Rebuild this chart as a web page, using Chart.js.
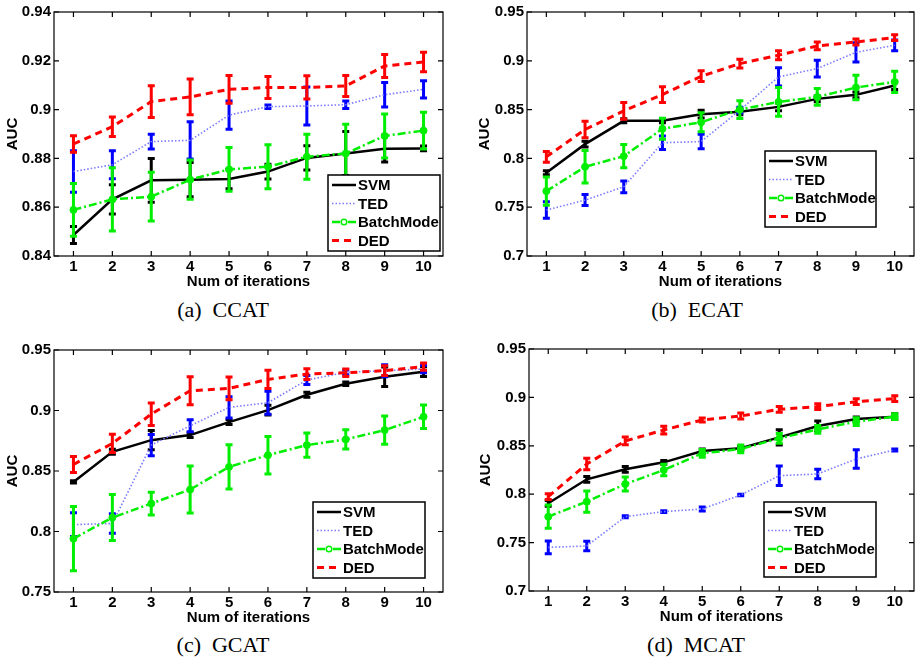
<!DOCTYPE html>
<html lang="en">
<head>
<meta charset="UTF-8" />
<title>AUC vs iterations</title>
<script src="https://cdn.jsdelivr.net/npm/chart.js@4.4.1/dist/chart.umd.min.js"></script>
<style>
  body { margin: 0; background: #fff; width: 919px; height: 660px; position: relative; overflow: hidden; }
  .panel { position: absolute; }
  .panel canvas { display: block; }
  .cap { position: absolute; font-family: "Liberation Serif", "Times New Roman", serif; font-size: 22px; color: #000; white-space: pre; transform: translate(-50%, -50%); }
</style>
</head>
<body>

<div class="panel" style="left:0;top:0"><canvas id="chartA" width="459" height="295"></canvas></div>
<div class="panel" style="left:459px;top:0"><canvas id="chartB" width="460" height="295"></canvas></div>
<div class="panel" style="left:0;top:330px"><canvas id="chartC" width="459" height="301"></canvas></div>
<div class="panel" style="left:459px;top:330px"><canvas id="chartD" width="460" height="300"></canvas></div>

<div class="cap" style="left:223px;top:310px">(a)  CCAT</div>
<div class="cap" style="left:697px;top:310px">(b)  ECAT</div>
<div class="cap" style="left:223px;top:645px">(c)  GCAT</div>
<div class="cap" style="left:696px;top:645px">(d)  MCAT</div>

<script>
// x 軸：迭代次數
const iterations = [1, 2, 3, 4, 5, 6, 7, 8, 9, 10];
const seriesNames = ["SVM", "TED", "BatchMode", "DED"];

// (a) CCAT
const ccatTicks = [0.84, 0.86, 0.88, 0.9, 0.92, 0.94];
const ccatTickLabels = ["0.84", "0.86", "0.88", "0.9", "0.92", "0.94"];
const ccatSvm = [0.8486, 0.8632, 0.871, 0.8713, 0.8716, 0.8746, 0.8802, 0.882, 0.884, 0.8841];
const ccatSvmErr = [0.0035, 0.006, 0.009, 0.007, 0.004, 0.003, 0.005, 0.009, 0.0055, 0.001];
const ccatTed = [0.8746, 0.8774, 0.8869, 0.8874, 0.8977, 0.9012, 0.9015, 0.902, 0.9061, 0.9083];
const ccatTedErr = [0.0085, 0.0057, 0.003, 0.0076, 0.0058, 0.0007, 0.0078, 0.0015, 0.005, 0.0035];
const ccatBatch = [0.8589, 0.8632, 0.8643, 0.8713, 0.8755, 0.8766, 0.8807, 0.882, 0.8892, 0.8914];
const ccatBatchErr = [0.0108, 0.013, 0.01, 0.008, 0.009, 0.009, 0.0092, 0.012, 0.009, 0.0075];
const ccatDed = [0.8859, 0.893, 0.9033, 0.9052, 0.9083, 0.9091, 0.9091, 0.9097, 0.9179, 0.9195];
const ccatDedErr = [0.0034, 0.004, 0.0065, 0.0073, 0.0057, 0.0045, 0.0048, 0.0043, 0.0047, 0.004];

// (b) ECAT
const ecatTicks = [0.7, 0.75, 0.8, 0.85, 0.9, 0.95];
const ecatTickLabels = ["0.7", "0.75", "0.8", "0.85", "0.9", "0.95"];
const ecatSvm = [0.7853, 0.8146, 0.8385, 0.8385, 0.8453, 0.8477, 0.8528, 0.861, 0.8651, 0.8746];
const ecatSvmErr = [0.002, 0.003, 0.002, 0.002, 0.004, 0.003, 0.004, 0.003, 0.003, 0.004];
const ecatTed = [0.7471, 0.7573, 0.7709, 0.816, 0.8173, 0.8494, 0.8835, 0.892, 0.9087, 0.9159];
const ecatTedErr = [0.0085, 0.0056, 0.006, 0.007, 0.0075, 0.003, 0.0093, 0.0085, 0.0099, 0.0055];
const ecatBatch = [0.7665, 0.7914, 0.8023, 0.8303, 0.8371, 0.85, 0.8579, 0.863, 0.8726, 0.8784];
const ecatBatchErr = [0.0145, 0.0167, 0.012, 0.0108, 0.0097, 0.009, 0.0148, 0.0085, 0.0125, 0.011];
const ecatDed = [0.8016, 0.8296, 0.8487, 0.8654, 0.8842, 0.8971, 0.9057, 0.9152, 0.9193, 0.9237];
const ecatDedErr = [0.0055, 0.0085, 0.0085, 0.008, 0.0055, 0.0045, 0.0045, 0.004, 0.003, 0.003];

// (c) GCAT
const gcatTicks = [0.75, 0.8, 0.85, 0.9, 0.95];
const gcatTickLabels = ["0.75", "0.8", "0.85", "0.9", "0.95"];
const gcatSvm = [0.841, 0.8659, 0.8755, 0.8797, 0.8904, 0.9003, 0.913, 0.9221, 0.9279, 0.9321];
const gcatSvmErr = [0.001, 0.002, 0.008, 0.002, 0.002, 0.004, 0.002, 0.0015, 0.008, 0.004];
const gcatTed = [0.8057, 0.8066, 0.8714, 0.8874, 0.9026, 0.9064, 0.9252, 0.9315, 0.9329, 0.9343];
const gcatTedErr = [0.0098, 0.008, 0.0087, 0.005, 0.0088, 0.0096, 0.0037, 0.002, 0.005, 0.003];
const gcatBatch = [0.7941, 0.8115, 0.8231, 0.8347, 0.8534, 0.8631, 0.8714, 0.8761, 0.8838, 0.8948];
const gcatBatchErr = [0.0265, 0.019, 0.0094, 0.0195, 0.0183, 0.0155, 0.01, 0.008, 0.0117, 0.0097];
const gcatDed = [0.8554, 0.8728, 0.897, 0.9163, 0.9183, 0.9257, 0.9301, 0.9312, 0.9329, 0.9362];
const gcatDedErr = [0.0066, 0.0076, 0.0093, 0.0115, 0.0094, 0.0076, 0.0044, 0.003, 0.004, 0.003];

// (d) MCAT
const mcatTicks = [0.7, 0.75, 0.8, 0.85, 0.9, 0.95];
const mcatTickLabels = ["0.7", "0.75", "0.8", "0.85", "0.9", "0.95"];
const mcatSvm = [0.7906, 0.8154, 0.8257, 0.8329, 0.8446, 0.8474, 0.8587, 0.8705, 0.8777, 0.8801];
const mcatSvmErr = [0.003, 0.003, 0.003, 0.002, 0.002, 0.002, 0.008, 0.005, 0.002, 0.003];
const mcatTed = [0.7451, 0.7465, 0.7768, 0.782, 0.7847, 0.7992, 0.8191, 0.8209, 0.8364, 0.8457];
const mcatTedErr = [0.0065, 0.005, 0.001, 0.001, 0.002, 0.0007, 0.01, 0.005, 0.0095, 0.001];
const mcatBatch = [0.7768, 0.7923, 0.8105, 0.825, 0.8422, 0.8467, 0.8577, 0.867, 0.8749, 0.8801];
const mcatBatchErr = [0.012, 0.011, 0.0072, 0.006, 0.004, 0.004, 0.005, 0.004, 0.004, 0.003];
const mcatDed = [0.7975, 0.8312, 0.855, 0.8663, 0.8767, 0.8808, 0.8877, 0.8904, 0.8956, 0.8987];
const mcatDedErr = [0.003, 0.006, 0.004, 0.004, 0.002, 0.003, 0.003, 0.003, 0.003, 0.003];

const FONT = "'Liberation Sans', Arial, Helvetica, sans-serif";

// 線條樣式（依 seriesNames 的順序）
const styles = [
  { line: "#000000", bar: "#000000", width: 2.5, dash: [], order: 3 },
  { line: "#7a7aff", bar: "#0000ff", width: 1.6, dash: [1.5, 2], order: 2 },
  { line: "#00ee00", bar: "#00ee00", width: 2.5, dash: [8, 3, 2, 3], order: 1, marker: true },
  { line: "#ff0000", bar: "#ff0000", width: 3, dash: [7, 5], order: 0 },
];

// 誤差棒：在每條線畫之前先畫，讓後面的系列蓋在上面
const errorBarPlugin = {
  id: "errorBars",
  beforeDatasetDraw(chart, args) {
    const ds = chart.data.datasets[args.index];
    if (!ds.errors) return;
    const { ctx, chartArea: a } = chart;
    const xs = chart.scales.x, ys = chart.scales.y;
    ctx.save();
    ctx.beginPath();
    ctx.rect(a.left, a.top, a.right - a.left, a.bottom - a.top);
    ctx.clip();
    ctx.strokeStyle = ds.barColor;
    ctx.lineWidth = 3;
    ctx.setLineDash([]);
    ds.data.forEach((p, i) => {
      const px = xs.getPixelForValue(p.x);
      const top = ys.getPixelForValue(p.y + ds.errors[i]);
      const bot = ys.getPixelForValue(p.y - ds.errors[i]);
      ctx.beginPath();
      ctx.moveTo(px, top); ctx.lineTo(px, bot);
      ctx.moveTo(px - 3.5, top); ctx.lineTo(px + 3.5, top);
      ctx.moveTo(px - 3.5, bot); ctx.lineTo(px + 3.5, bot);
      ctx.stroke();
    });
    ctx.restore();
  },
};

// MATLAB 風格的外框與朝內刻度
const framePlugin = {
  id: "frame",
  afterDatasetsDraw(chart) {
    const { ctx, chartArea: a } = chart;
    const xs = chart.scales.x, ys = chart.scales.y;
    ctx.save();
    ctx.strokeStyle = "#000";
    ctx.lineWidth = 1.2;
    ctx.setLineDash([]);
    ctx.strokeRect(a.left, a.top, a.right - a.left, a.bottom - a.top);
    ctx.beginPath();
    xs.ticks.forEach((t) => {
      const p = xs.getPixelForValue(t.value);
      ctx.moveTo(p, a.bottom); ctx.lineTo(p, a.bottom - 5);
      ctx.moveTo(p, a.top); ctx.lineTo(p, a.top + 5);
    });
    ys.ticks.forEach((t) => {
      const p = ys.getPixelForValue(t.value);
      ctx.moveTo(a.left, p); ctx.lineTo(a.left + 5, p);
      ctx.moveTo(a.right, p); ctx.lineTo(a.right - 5, p);
    });
    ctx.stroke();
    ctx.restore();
  },
};

// 圖內右下角的圖例框
const boxLegendPlugin = {
  id: "boxLegend",
  afterDraw(chart, args, opts) {
    const ctx = chart.ctx;
    const { x, y, w, h } = opts;
    ctx.save();
    ctx.fillStyle = "#fff";
    ctx.fillRect(x, y, w, h);
    ctx.strokeStyle = "#000";
    ctx.lineWidth = 1.5;
    ctx.setLineDash([]);
    ctx.strokeRect(x, y, w, h);
    ctx.font = "bold 15px " + FONT;
    ctx.textBaseline = "middle";
    chart.data.datasets.forEach((ds, i) => {
      const ry = y + 10 + i * 18.5;
      ctx.strokeStyle = ds.borderColor;
      ctx.lineWidth = ds.borderWidth;
      ctx.setLineDash(ds.borderDash);
      ctx.beginPath();
      ctx.moveTo(x + 4, ry);
      ctx.lineTo(x + 28, ry);
      ctx.stroke();
      if (ds.pointRadius > 0) {
        ctx.setLineDash([]);
        ctx.lineWidth = 1.5;
        ctx.beginPath();
        ctx.arc(x + 16, ry, 2.8, 0, 2 * Math.PI);
        ctx.fillStyle = "#fff";
        ctx.fill();
        ctx.stroke();
      }
      ctx.fillStyle = "#000";
      ctx.fillText(ds.label, x + 30, ry + 1);
    });
    ctx.restore();
  },
};

function makeChart(id, series, errs, yTicks, yTickLabels, box) {
  return new Chart(document.getElementById(id), {
    type: "line",
    data: {
      datasets: seriesNames.map((name, k) => ({
        label: name,
        data: series[k].map((v, i) => ({ x: iterations[i], y: v })),
        errors: errs[k],
        barColor: styles[k].bar,
        borderColor: styles[k].line,
        backgroundColor: styles[k].line,
        borderWidth: styles[k].width,
        borderDash: styles[k].dash,
        order: styles[k].order,
        tension: 0,
        pointRadius: styles[k].marker ? 3.5 : 0,
        pointBackgroundColor: styles[k].line,
        pointBorderColor: styles[k].line,
        pointBorderWidth: 1,
      })),
    },
    options: {
      responsive: false,
      animation: false,
      layout: { padding: { left: box.padLeft, right: box.padRight, top: box.padTop, bottom: 0 } },
      plugins: { legend: { display: false }, tooltip: { enabled: false }, boxLegend: box.legend },
      scales: {
        x: {
          type: "linear",
          min: 0.5,
          max: 10.5,
          afterBuildTicks: (s) => { s.ticks = iterations.map((v) => ({ value: v })); },
          afterFit: (s) => { s.height = 39; },
          grid: { display: false, drawTicks: false },
          border: { display: false },
          ticks: { color: "#000", padding: 2, autoSkip: false, maxRotation: 0, font: { family: FONT, size: 15, weight: "bold" } },
          title: { display: true, text: "Num of iterations", color: "#000", padding: { top: 0, bottom: 4 }, font: { family: FONT, size: 15, weight: "bold" } },
        },
        y: {
          type: "linear",
          min: yTicks[0],
          max: yTicks[yTicks.length - 1],
          afterBuildTicks: (s) => { s.ticks = yTicks.map((v) => ({ value: v })); },
          afterFit: (s) => { s.width = box.yW; },
          grid: { display: false, drawTicks: false },
          border: { display: false },
          ticks: { color: "#000", padding: 3, callback: (v, i) => yTickLabels[i], font: { family: FONT, size: 15, weight: "bold" } },
          title: { display: true, text: "AUC", color: "#000", padding: { top: 4, bottom: 0 }, font: { family: FONT, size: 15, weight: "bold" } },
        },
      },
    },
    plugins: [errorBarPlugin, framePlugin, boxLegendPlugin],
  });
}

makeChart("chartA",
  [ccatSvm, ccatTed, ccatBatch, ccatDed],
  [ccatSvmErr, ccatTedErr, ccatBatchErr, ccatDedErr],
  ccatTicks, ccatTickLabels,
  { padLeft: 0, yW: 54, padRight: 16, padTop: 12, legend: { x: 328, y: 175, w: 112, h: 76 } });

makeChart("chartB",
  [ecatSvm, ecatTed, ecatBatch, ecatDed],
  [ecatSvmErr, ecatTedErr, ecatBatchErr, ecatDedErr],
  ecatTicks, ecatTickLabels,
  { padLeft: 13, yW: 55, padRight: 3, padTop: 12, legend: { x: 306, y: 151, w: 111, h: 76 } });

makeChart("chartC",
  [gcatSvm, gcatTed, gcatBatch, gcatDed],
  [gcatSvmErr, gcatTedErr, gcatBatchErr, gcatDedErr],
  gcatTicks, gcatTickLabels,
  { padLeft: 0, yW: 54, padRight: 16, padTop: 20, legend: { x: 313, y: 172, w: 112, h: 76 } });

makeChart("chartD",
  [mcatSvm, mcatTed, mcatBatch, mcatDed],
  [mcatSvmErr, mcatTedErr, mcatBatchErr, mcatDedErr],
  mcatTicks, mcatTickLabels,
  { padLeft: 14, yW: 56, padRight: 1, padTop: 19, legend: { x: 305, y: 172, w: 112, h: 75 } });
</script>

</body>
</html>
